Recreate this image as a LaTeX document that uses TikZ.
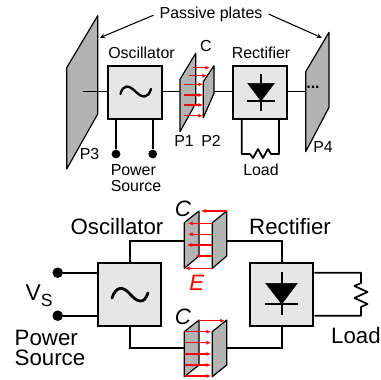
\documentclass[tikz,border=0pt]{standalone}
\usepackage{fontspec}
\setmainfont{Liberation Sans}
\usetikzlibrary{
    calc,
    arrows,
    arrows.meta
}
\definecolor{boxgray}{HTML}{E6E6E6}
\definecolor{plategray}{HTML}{B3B3B3}
\tikzset{
    wire/.style={line width=1.5pt},
    smalltext/.style={font=\fontsize{13.6}{13}\selectfont,inner sep=0pt},
    bigtext/.style={font=\fontsize{19}{17.5}\selectfont,inner sep=0pt},
    smallbox/.style={draw,fill=boxgray,line width=1.8pt,minimum size=1.6cm,inner sep=0pt},
    bigbox/.style={draw,fill=boxgray,line width=1.8pt,minimum size=1.89cm,inner sep=0pt},
    terminal/.style={circle,fill=black,inner sep=0pt},
    plate/.style={draw,fill=plategray,line width=1pt,line join=round},
    field/.style={red,-{Latex[length=4pt,width=3.5pt]},line width=1pt},
    pointer/.style={->,>=stealth,line width=0.9pt}
}

\begin{document}
\begin{tikzpicture}[x=0.03cm,y=-0.03cm]
    \useasboundingbox (0,0) rectangle (381,379);

    % wireless link, upper drawing
    \node[smalltext] (passive) at (211,14){Passive plates};
    \node[smalltext] (oscname) at (141.5,53){Oscillator};
    \node[smalltext] (recname) at (261,53){Rectifier};
    \node[smalltext] (cname) at (206,46.5){C};

    \coordinate (p3tip) at (100,37.7);
    \coordinate (p4tip) at (321.7,37.7);
    \coordinate (p3in) at (82.5,91.5);
    \coordinate (p1in) at (180,91.5);
    \coordinate (p2out) at (209.5,91.5);
    \coordinate (p4in) at (306,91.5);

    \draw[plate] (97.7,15.7) -- (97.7,114) -- (66.7,169) -- (66.7,67.7) -- cycle;
    \draw[plate] (329,32.3) -- (329,107.3) -- (305.7,151.7) -- (305.7,71.7) -- cycle;
    \draw[plate] (195.7,53.3) -- (195.7,103.3) -- (180,131.7) -- (180,79.3) -- cycle;

    \draw[pointer] ([xshift=-5pt,yshift=-1pt]passive.west) to (p3tip);
    \draw[pointer] ([xshift=5pt]passive.east) to (p4tip);

    \node[smallbox] (osc) at (135,92.3){};
    \node[smallbox] (rec) at (260,92.3){};

    \node[terminal,minimum size=7.5pt] (dotl) at (116,154){};
    \node[terminal,minimum size=7.5pt] (dotr) at (152.7,154){};
    \draw[wire] (osc.south -| dotl) to (dotl);
    \draw[wire] (osc.south -| dotr) to (dotr);

    \draw[wire] (p3in) to (osc.west |- p3in);
    \draw[wire] (osc.east |- p1in) to (p1in);
    \draw[wire] (p2out) to (rec.west |- p2out);
    \draw[wire] (rec.east |- p4in) to (p4in);
    \node[smalltext] (dots) at (313,87){\textbf{...}};

    \foreach \ya/\xa/\xb in {67.7/193/210, 75.7/189/207, 84.3/184/203, 95/184/203, 105/184/203, 115.7/184/203}
        \draw[field] (\xa,\ya) -- (\xb,\ya);
    \draw[plate] (214,65.7) -- (214,93.3) -- (203.3,117.7) -- (203.3,81.7) -- cycle;

    % sine and diode symbols
    \draw[line width=2pt,line cap=round] (120.5,94) .. controls (123,84) and (129,85) .. (135.5,91.5)
        .. controls (142,98) and (148,99) .. (151,89);
    \draw[fill=black] (247.7,83.3) -- (274.3,83.3) -- (261,101) -- cycle;
    \draw[wire] (261,73.7) -- (261,110.7);
    \draw[wire] (246.7,101) -- (275,101);

    \coordinate (loadl) at (241.7,154);
    \coordinate (loadr) at (279,154);
    \draw[wire,line join=round] (rec.south -| loadl) -- (loadl) -- (250,154) -- (253,158) -- (258,149) -- (263,158)
        -- (268,149) -- (271,154) -- (loadr) -- (rec.south -| loadr);

    \node[smalltext] (p1name) at (184,141){P1};
    \node[smalltext] (p2name) at (211,141){P2};
    \node[smalltext] (p3name) at (89.5,154){P3};
    \node[smalltext] (p4name) at (323,147){P4};
    \node[smalltext] (loadname) at (261,170){Load};
    \node[smalltext,align=left] (sourcename) at (136,178){Power\\Source};

    % lower drawing
    \node[bigtext] (oscbig) at (117,227){Oscillator};
    \node[bigtext] (recbig) at (290,227){Rectifier};
    \node[bigbox] (oscb) at (129.7,294.5){};
    \node[bigbox] (recb) at (281.7,294.5){};

    \node[terminal,minimum size=9pt] (vtop) at (57.7,272.7){};
    \node[terminal,minimum size=9pt] (vbot) at (57.7,315.7){};
    \draw[wire] (vtop) to (oscb.west |- vtop);
    \draw[wire] (vbot) to (oscb.west |- vbot);

    \coordinate (ctopin) at (185,240.7);
    \coordinate (cbotin) at (185,348);
    \coordinate (ctopout) at (220,240.7);
    \coordinate (cbotout) at (220,348);
    \draw[wire] (oscb.north) |- (ctopin);
    \draw[wire] (oscb.south) |- (cbotin);
    \draw[wire] (recb.north) |- (ctopout);
    \draw[wire] (recb.south) |- (cbotout);

    % upper capacitor, field to the left
    \draw[plate] (184.3,222.7) -- (199,211) -- (199,256) -- (184.3,268.3) -- cycle;
    \draw[plate] (212.3,222.7) -- (226.7,211) -- (226.7,256) -- (212.3,268.3) -- cycle;
    \foreach \ya/\xa/\xb in {211/226/201, 223.3/212/188, 234.3/212/188, 245/212/187, 256/212/195.7, 268.3/212/185}
        \draw[field] (\xa,\ya) -- (\xb,\ya);

    % lower capacitor, field to the right
    \draw[plate] (184.3,331.7) -- (199,320) -- (199,365) -- (184.3,376.7) -- cycle;
    \draw[plate] (212.3,331.7) -- (226.7,320) -- (226.7,365) -- (212.3,376.7) -- cycle;
    \foreach \ya/\xa/\xb in {320.7/199/225, 331.7/184.5/211, 342.7/184.5/211, 354/184.5/211, 365/184.5/211, 376/184.5/211}
        \draw[field] (\xa,\ya) -- (\xb,\ya);

    % sine and diode symbols
    \draw[line width=2.4pt,line cap=round] (112,298) .. controls (116,286) and (123,286) .. (130,294)
        .. controls (137,302) and (144,305) .. (148,293);
    \draw[fill=black] (265.7,283.3) -- (297.3,283.3) -- (281.7,304) -- cycle;
    \draw[wire] (281.7,271.7) -- (281.7,315);
    \draw[wire] (265,304) -- (298,304);

    \coordinate (rtop) at (361,272.7);
    \coordinate (rbot) at (361,315.7);
    \draw[wire,line join=round] (recb.east |- rtop) -- (rtop) -- (361,283) -- (354.5,286) -- (367.5,292) -- (354.5,298)
        -- (367.5,304) -- (361,307) -- (rbot) -- (recb.east |- rbot);

    \node[bigtext] (ctop) at (183,209){\textit{C}};
    \node[bigtext] (cbot) at (183,317){\textit{C}};
    \node[bigtext,red] (efield) at (197,283){\textit{E}};
    \node[font=\fontsize{19.5}{22}\selectfont,inner sep=0pt] (vs) at (39,295.5){V\raisebox{-0.24em}{\fontsize{15}{15}\selectfont S}};
    \node[bigtext,align=left] (sourcebig) at (50,348){Power\\Source};
    \node[bigtext] (loadbig) at (356,336){Load};
\end{tikzpicture}
\end{document}
